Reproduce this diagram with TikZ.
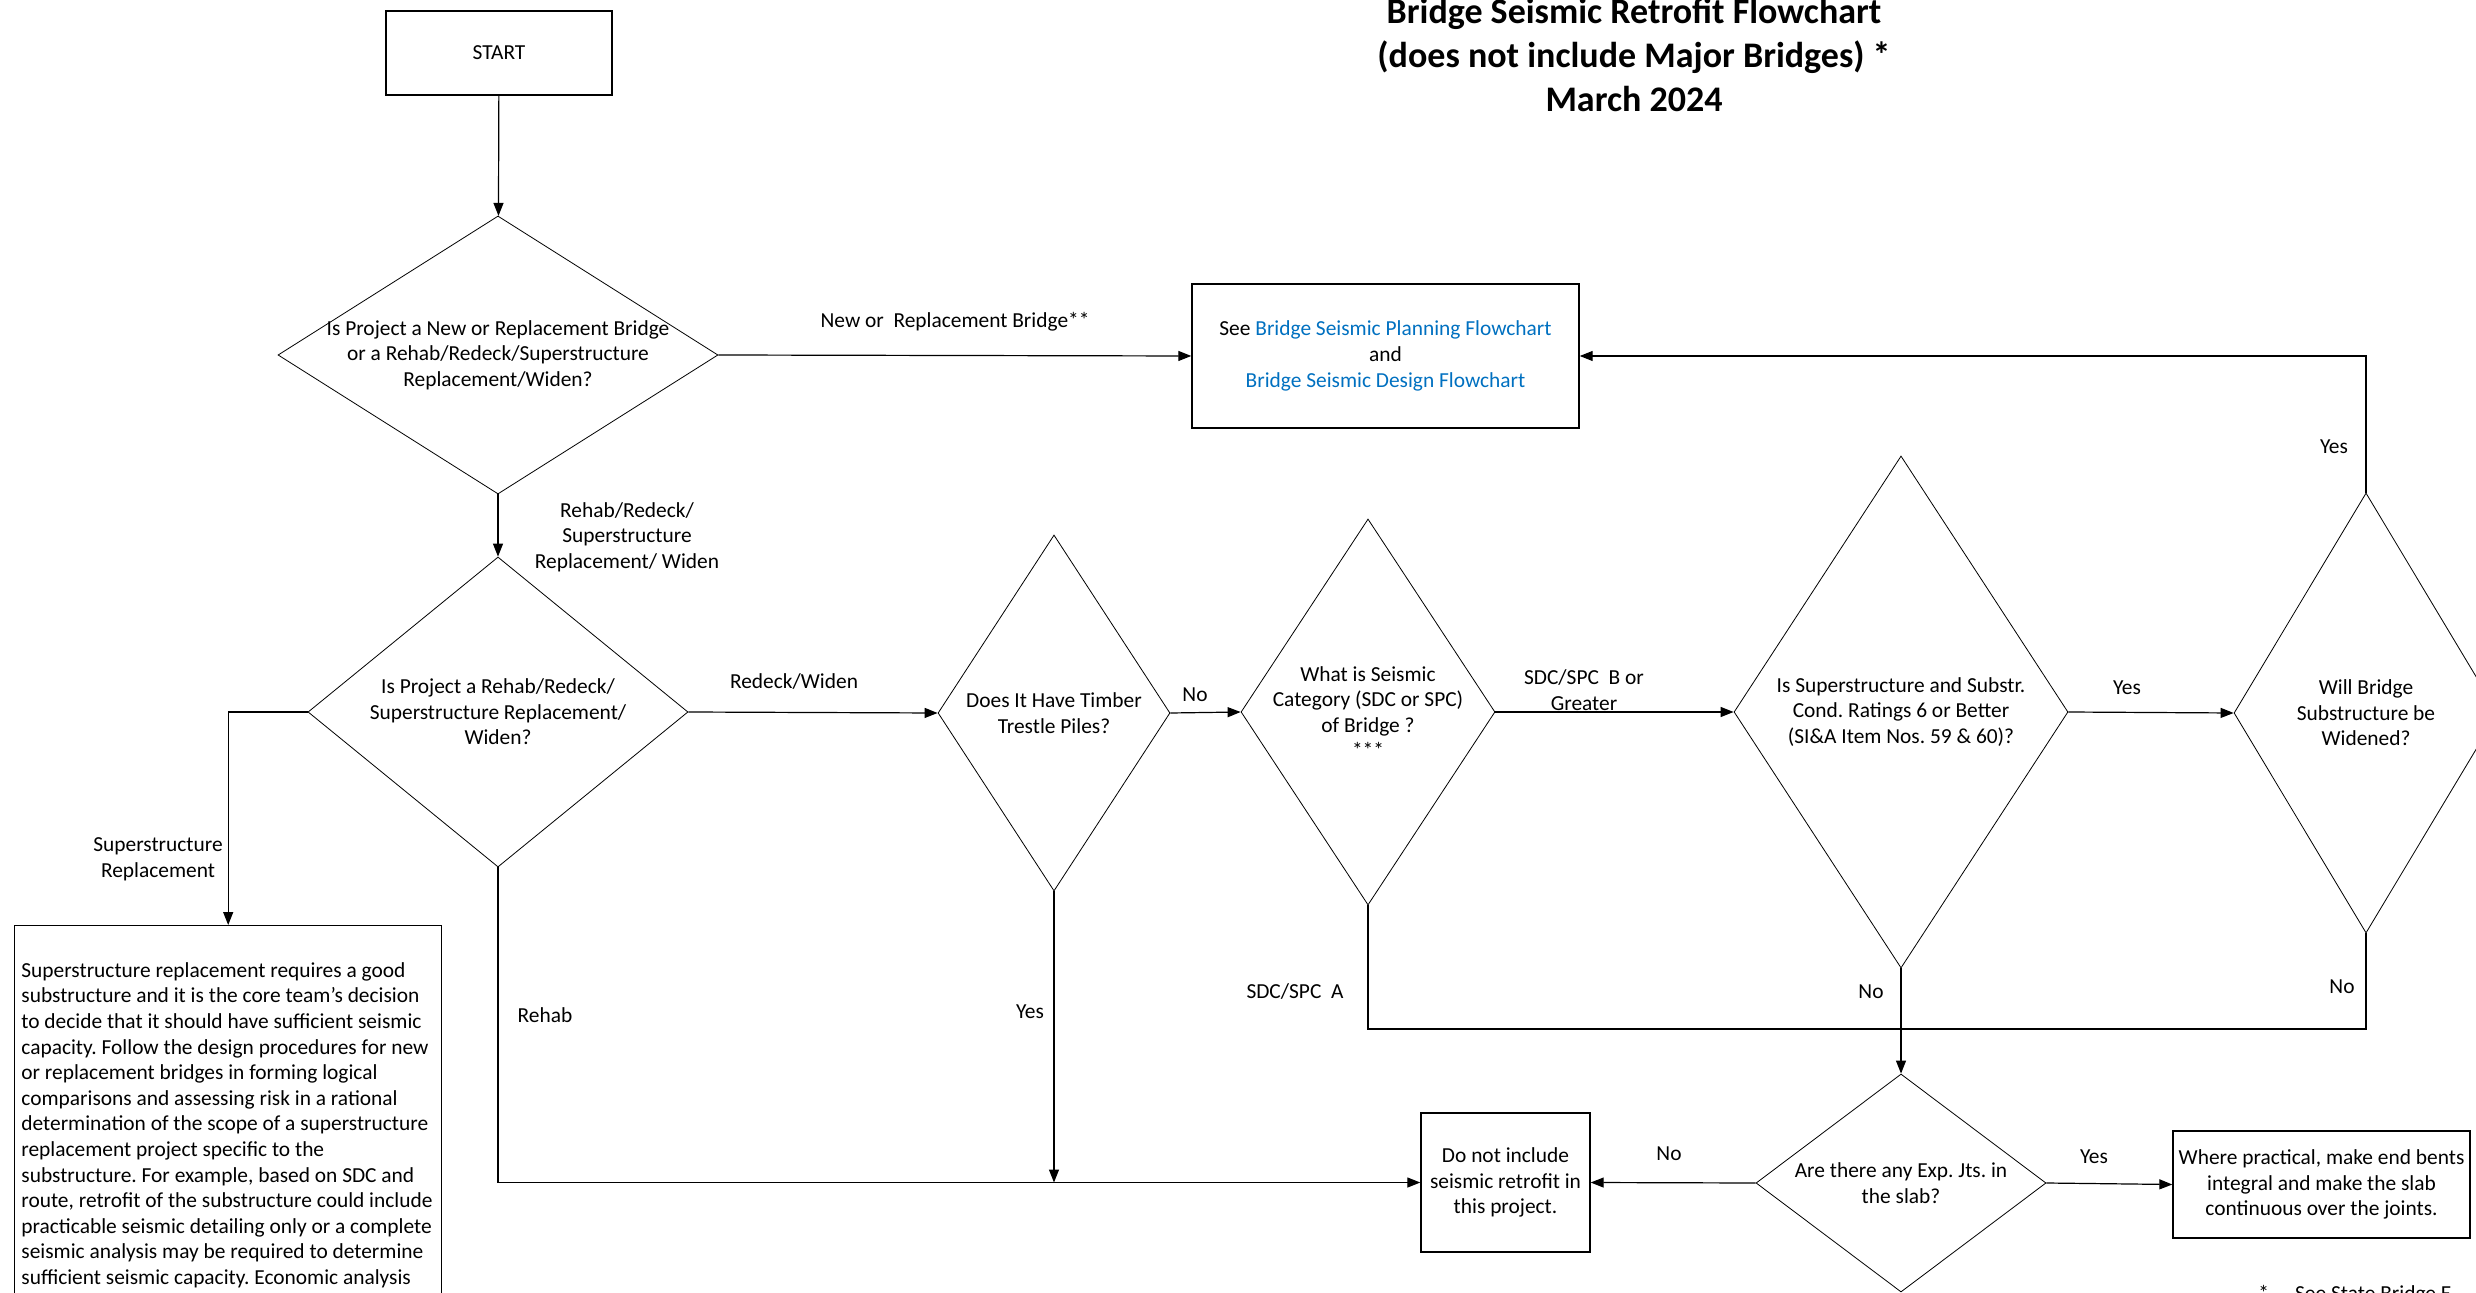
\documentclass[tikz,border=0pt]{standalone}
\usepackage{fontspec}
\setmainfont{Carlito}
\usetikzlibrary{shapes.geometric, arrows.meta}
\definecolor{linkblue}{RGB}{0,112,192}
\frenchspacing

\begin{document}
\begin{tikzpicture}[
    x=0.5pt, y=-0.5pt,
    font=\fontsize{10.7}{12.8}\selectfont,
    box/.style={draw, line width=0.7pt, align=center, inner sep=0pt},
    decision/.style={draw, diamond, line width=0.4pt, align=center, inner sep=0pt},
    flow/.style={line width=0.6pt, -{Triangle[length=6.5pt, width=5pt]}},
    link/.style={line width=0.6pt},
    lbl/.style={align=center, inner sep=0pt},
]
\clip (0,0) rectangle (2476,1293);

\node[lbl, font=\fontsize{18}{22.2}\selectfont\bfseries] (title) at (1634,55)
    {Bridge Seismic Retrofit Flowchart\\(does not include Major Bridges) *\\March 2024};

\node[box, minimum width=113pt, minimum height=42pt] (start) at (499,53) {START};
\node[decision, minimum width=220pt, minimum height=139pt, aspect=1.58, inner xsep=-3.5pt] (q1) at (498,355)
    {Is Project a New or Replacement Bridge\\or a Rehab/Redeck/Superstructure\\Replacement/Widen?};
\node[box, minimum width=193.5pt, minimum height=72pt] (see) at (1385.5,356)
    {See \textcolor{linkblue}{Bridge Seismic Planning Flowchart}\\and\\\textcolor{linkblue}{Bridge Seismic Design Flowchart}};
\node[decision, minimum width=190pt, minimum height=155pt, aspect=1.23] (q2) at (498,712)
    {Is Project a Rehab/Redeck/\\Superstructure Replacement/\\Widen?};
\node[box, anchor=north west, minimum width=213.5pt, minimum height=250pt] (note) at (14,925) {};
\node[anchor=north west, align=left, inner sep=0pt] (notetext) at (21,962)
    {Superstructure replacement requires a good\\
     substructure and it is the core team’s decision\\
     to decide that it should have sufficient seismic\\
     capacity. Follow the design procedures for new\\
     or replacement bridges in forming logical\\
     comparisons and assessing risk in a rational\\
     determination of the scope of a superstructure\\
     replacement project specific to the\\
     substructure. For example, based on SDC and\\
     route, retrofit of the substructure could include\\
     practicable seismic detailing only or a complete\\
     seismic analysis may be required to determine\\
     sufficient seismic capacity. Economic analysis};
\node[decision, minimum width=116pt, minimum height=178pt, aspect=0.65] (q3) at (1054,713)
    {Does It Have Timber\\Trestle Piles?};
\node[decision, minimum width=127pt, minimum height=193pt, aspect=0.66] (q4) at (1368,712)
    {What is Seismic\\Category (SDC or SPC)\\of Bridge ?\\***};
\node[decision, minimum width=167pt, minimum height=256pt, aspect=0.65] (q5) at (1901,712)
    {Is Superstructure and Substr.\\Cond. Ratings 6 or Better\\(SI\&A Item Nos. 59 \& 60)?};
\node[decision, minimum width=132pt, minimum height=220pt, aspect=0.6] (q6) at (2366,713)
    {Will Bridge\\Substructure be\\Widened?};
\node[decision, minimum width=145pt, minimum height=109pt, aspect=1.33] (q7) at (1901,1183)
    {Are there any Exp. Jts. in\\the slab?};
\node[box, minimum width=84.5pt, minimum height=69.5pt] (skip) at (1505.5,1182.5)
    {Do not include\\seismic retrofit in\\this project.};
\node[box, minimum width=148.5pt, minimum height=53.5pt] (joints) at (2321.5,1184.5)
    {Where practical, make end bents\\integral and make the slab\\continuous over the joints.};

\node[lbl] (lnew) at (955,322) {New or\ \ Replacement Bridge**};
\node[lbl] (lrrsw) at (627,537) {Rehab/Redeck/\\Superstructure\\Replacement/ Widen};
\node[lbl] (lsuper) at (158,859) {Superstructure\\Replacement};
\node[lbl] (lredeck) at (794,682) {Redeck/Widen};
\node[lbl] (lno1) at (1195,695) {No};
\node[lbl] (lsdcb) at (1584,690) {SDC/SPC\ \ B or\\Greater};
\node[lbl] (lyes1) at (2127,688) {Yes};
\node[lbl] (lyes2) at (2334,447) {Yes};
\node[lbl] (lsdca) at (1295,992) {SDC/SPC\ \ A};
\node[lbl] (lno2) at (1871,992) {No};
\node[lbl] (lno3) at (2342,987) {No};
\node[lbl] (lrehab) at (545,1015) {Rehab};
\node[lbl] (lyes3) at (1030,1012) {Yes};
\node[lbl] (lno4) at (1669,1154) {No};
\node[lbl] (lyes4) at (2094,1157) {Yes};
\node[lbl, anchor=base west] (foot) at (2258,1300) {*\hspace{13pt}See State Bridge E};

\coordinate (join) at (1901,1029);
\coordinate (tee) at (q3.south |- skip.west);

\draw[flow] (start) -- (q1);
\draw[flow] (q1.east) -- (see.west);
\draw[flow] (q1.south) -- (q2.north);
\draw[flow] (q2.west) -| (note.north);
\draw[flow] (q2.east) -- (q3.west);
\draw[flow] (q3.east) -- (q4.west);
\draw[flow] (q4.east) -- (q5.west);
\draw[flow] (q5.east) -- (q6.west);
\draw[flow] (q6.north) |- (see.east);
\draw[link] (q4.south) |- (join);
\draw[link] (q6.south) |- (join);
\draw[flow] (q5.south) -- (q7.north);
\draw[flow] (q2.south) |- (skip.west);
\draw[flow] (q3.south) -- (tee);
\draw[flow] (q7.west) -- (skip.east);
\draw[flow] (q7.east) -- (joints.west);
\end{tikzpicture}
\end{document}
